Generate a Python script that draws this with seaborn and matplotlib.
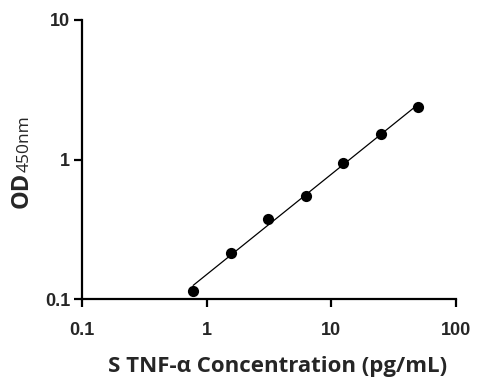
import matplotlib
matplotlib.use("Agg")
import matplotlib.pyplot as plt
import numpy as np
import pandas as pd
import seaborn as sns
from matplotlib.ticker import NullLocator

# Standard curve readings
conc = [0.78, 1.56, 3.125, 6.25, 12.5, 25, 50]
od = [0.114, 0.215, 0.374, 0.548, 0.94, 1.52, 2.38]
x_ticks = [0.1, 1, 10, 100]
x_tick_labels = ["0.1", "1", "10", "100"]
y_ticks = [0.1, 1, 10]
y_tick_labels = ["0.1", "1", "10"]

df = pd.DataFrame({"conc": conc, "od": od})

# straight-line fit in log-log space, drawn between the first and last standard
slope, icpt = np.polyfit(np.log10(df["conc"]), np.log10(df["od"]), 1)
fit = pd.DataFrame({"conc": [df["conc"].min(), df["conc"].max()]})
fit["od"] = 10 ** (icpt + slope * np.log10(fit["conc"]))

sns.set_style("ticks")
plt.rcParams["font.family"] = ["Liberation Sans", "DejaVu Sans"]

fig = plt.figure(figsize=(4.85, 3.91), dpi=100)
ax = fig.add_axes([0.169, 0.235, 0.771, 0.714])

sns.lineplot(data=fit, x="conc", y="od", ax=ax, color="black", linewidth=0.9)
sns.scatterplot(data=df, x="conc", y="od", ax=ax, color="black", s=65,
                edgecolor="black", linewidth=0, zorder=3, clip_on=False)

ax.set_xscale("log")
ax.set_yscale("log")
ax.set_xlim(0.1, 100)
ax.set_ylim(0.1, 10)
ax.set_xticks(x_ticks)
ax.set_xticklabels(x_tick_labels)
ax.set_yticks(y_ticks)
ax.set_yticklabels(y_tick_labels)
ax.xaxis.set_minor_locator(NullLocator())
ax.yaxis.set_minor_locator(NullLocator())

for side in ["top", "right"]:
    ax.spines[side].set_visible(False)
for side in ["left", "bottom"]:
    ax.spines[side].set_linewidth(1.6)
    ax.spines[side].set_color("black")

ax.tick_params(axis="both", which="major", length=5.5, width=1.6, color="black")
ax.tick_params(axis="x", pad=11)
ax.tick_params(axis="y", pad=3)
for lab in ax.get_xticklabels() + ax.get_yticklabels():
    lab.set_fontweight("bold")
    lab.set_fontsize(13)

ax.set_xlabel("S TNF-α Concentration (pg/mL)", fontsize=16, fontweight="bold",
              family=["Open Sans", "DejaVu Sans"])
ax.xaxis.set_label_coords(0.523, -0.205)
ax.set_ylabel("")

# y label: bold "OD" followed by smaller regular "450nm"
t1 = fig.text(0.045, 0.468, "OD", rotation=90, fontsize=17, fontweight="bold",
              family=["Open Sans", "DejaVu Sans"], ha="center", va="bottom")
fig.canvas.draw()
bb = t1.get_window_extent().transformed(fig.transFigure.inverted())
fig.text(bb.x1 - 0.003, bb.y1, "450nm", rotation=90, fontsize=12.5,
         family=["Open Sans", "DejaVu Sans"], ha="right", va="bottom")

fig.savefig("out.png", dpi=100)
